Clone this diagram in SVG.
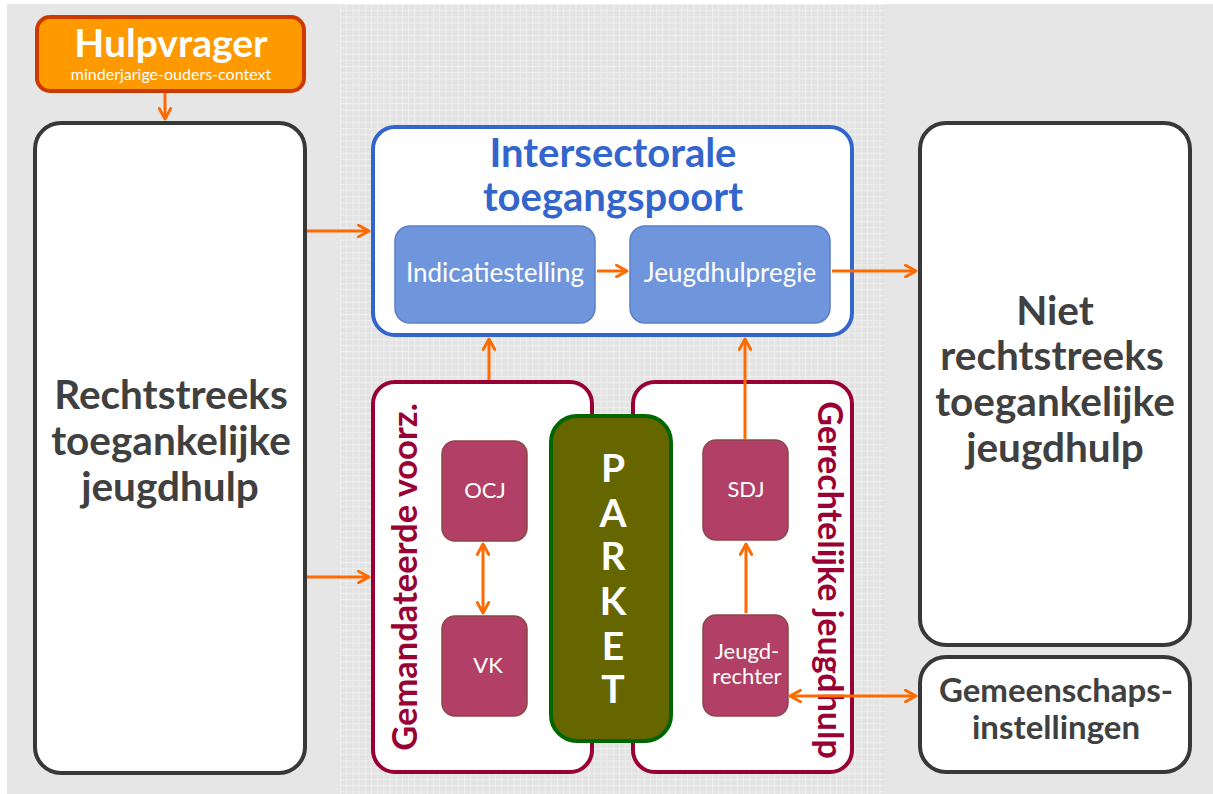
<svg xmlns="http://www.w3.org/2000/svg" width="1213" height="794" viewBox="0 0 1213 794">
<defs>
<pattern id="grid" x="340" y="4" width="6.2" height="6.2" patternUnits="userSpaceOnUse">
<rect width="6.2" height="6.2" fill="#e3e3e3"/>
<path d="M0,0.5 H6.2 M0.5,0 V6.2" stroke="#efefef" stroke-width="1" fill="none"/>
</pattern>
<marker id="ah" viewBox="0 0 10 10" refX="8.5" refY="5" markerWidth="4.8" markerHeight="4.8" orient="auto-start-reverse" markerUnits="strokeWidth">
<path d="M1.2,1 L8.5,5 L1.2,9" fill="none" stroke="#ff6a00" stroke-width="2" stroke-linecap="round" stroke-linejoin="round"/>
</marker>
<style>
.t{font-family:Lato,"Open Sans","Liberation Sans",sans-serif}
.big{font-weight:bold;fill:#404040;font-size:40.5px}
.gm{font-weight:bold;fill:#404040;font-size:33px}
.blk{fill:#fff;stroke:#383838;stroke-width:4}
.crim{fill:#fff;stroke:#990033;stroke-width:4}
.blue{fill:#6f96dc;stroke:#5b7fc4;stroke-width:1.5}
.mag{fill:#b24066;stroke:#8c4646;stroke-width:1.5}
.wt{fill:#fff}
.con{stroke:#ff6a00;stroke-width:3;fill:none;marker-end:url(#ah)}
.dbl{marker-start:url(#ah)}
</style>
</defs>
<rect width="1213" height="794" fill="#ffffff"/>
<rect x="7" y="4" width="1206" height="790" fill="#e6e6e6"/>
<rect x="340" y="4" width="545" height="790" fill="url(#grid)"/>

<g id="hulpvrager">
<rect x="37" y="17" width="267" height="74" rx="13" fill="#ff9900" stroke="#cc3a00" stroke-width="4"/>
<text class="t wt" x="171" y="57" text-anchor="middle" font-size="39" font-weight="bold">Hulpvrager</text>
<text class="t wt" x="171" y="80" text-anchor="middle" font-size="16">minderjarige-ouders-context</text>
</g>

<g id="rechtstreeks">
<rect class="blk" x="35" y="123" width="270" height="650" rx="26"/>
<text class="t big" text-anchor="middle" x="171" y="409">Rechtstreeks</text>
<text class="t big" text-anchor="middle" x="171" y="455">toegankelijke</text>
<text class="t big" text-anchor="middle" x="170" y="501">jeugdhulp</text>
</g>

<g id="intersectorale">
<rect x="373" y="127" width="479" height="208" rx="22" fill="#fff" stroke="#3366cc" stroke-width="4"/>
<text class="t" x="613" y="167" text-anchor="middle" font-size="40" font-weight="bold" fill="#3366cc">Intersectorale</text>
<text class="t" x="613" y="211" text-anchor="middle" font-size="40" font-weight="bold" fill="#3366cc">toegangspoort</text>
</g>

<g id="indicatiestelling">
<rect class="blue" x="395" y="226" width="200" height="97" rx="15"/>
<text class="t wt" x="495" y="282" text-anchor="middle" font-size="26">Indicatiestelling</text>
</g>

<g id="jeugdhulpregie">
<rect class="blue" x="630" y="226" width="200" height="97" rx="15"/>
<text class="t wt" x="730" y="282" text-anchor="middle" font-size="26">Jeugdhulpregie</text>
</g>

<g id="niet">
<rect class="blk" x="920" y="123" width="270" height="522" rx="26"/>
<text class="t big" text-anchor="middle" x="1055" y="325">Niet</text>
<text class="t big" text-anchor="middle" x="1052" y="370">rechtstreeks</text>
<text class="t big" text-anchor="middle" x="1055" y="416">toegankelijke</text>
<text class="t big" text-anchor="middle" x="1055" y="462">jeugdhulp</text>
</g>

<g id="gemeenschaps">
<rect class="blk" x="920" y="657" width="270" height="115" rx="26"/>
<text class="t gm" text-anchor="middle" x="1056" y="702">Gemeenschaps-</text>
<text class="t gm" text-anchor="middle" x="1056" y="739">instellingen</text>
</g>

<g id="gemandateerde">
<rect class="crim" x="373" y="382" width="219" height="390" rx="22"/>
<text class="t" transform="translate(417,577) rotate(-90)" text-anchor="middle" font-size="34.5" font-weight="bold" fill="#990033">Gemandateerde voorz.</text>
</g>

<g id="gerechtelijke">
<rect class="crim" x="633" y="382" width="219" height="390" rx="22"/>
<text class="t" transform="translate(818,580) rotate(90)" text-anchor="middle" font-size="34" font-weight="bold" fill="#990033">Gerechtelijke jeugdhulp</text>
</g>

<g id="parket">
<rect x="551" y="416" width="120" height="325" rx="26" fill="#666600" stroke="#006600" stroke-width="4"/>
<g class="t wt" font-size="39" font-weight="bold" text-anchor="middle">
<text x="613" y="482">P</text>
<text x="613" y="527">A</text>
<text x="613" y="570">R</text>
<text x="613" y="615">K</text>
<text x="613" y="660">E</text>
<text x="613" y="703">T</text>
</g>
</g>

<g id="ocj">
<rect class="mag" x="442" y="441" width="85" height="100" rx="13"/>
<text class="t wt" x="485" y="498" text-anchor="middle" font-size="22">OCJ</text>
</g>

<g id="vk">
<rect class="mag" x="442" y="616" width="85" height="100" rx="13"/>
<text class="t wt" x="488" y="673" text-anchor="middle" font-size="22">VK</text>
</g>

<g id="sdj">
<rect class="mag" x="703" y="440" width="85" height="100" rx="13"/>
<text class="t wt" x="746" y="497" text-anchor="middle" font-size="22">SDJ</text>
</g>

<g id="jeugdrechter">
<rect class="mag" x="703" y="615" width="85" height="101" rx="13"/>
<text class="t wt" x="747" y="659" text-anchor="middle" font-size="22">Jeugd-</text>
<text class="t wt" x="747" y="684" text-anchor="middle" font-size="22">rechter</text>
</g>

<g id="connectors">
<line class="con" x1="165" y1="93" x2="165" y2="119"/>
<line class="con" x1="307" y1="231" x2="369" y2="231"/>
<line class="con" x1="307" y1="577" x2="369" y2="577"/>
<line class="con" x1="597" y1="271" x2="627" y2="271"/>
<line class="con" x1="832" y1="271" x2="916" y2="271"/>
<line class="con" x1="489" y1="380" x2="489" y2="339"/>
<line class="con" x1="745" y1="439" x2="745" y2="339"/>
<line class="con" x1="746" y1="613" x2="746" y2="544"/>
<line class="con dbl" x1="483" y1="544" x2="483" y2="613"/>
<line class="con dbl" x1="790" y1="696" x2="916" y2="696"/>
</g>
</svg>
